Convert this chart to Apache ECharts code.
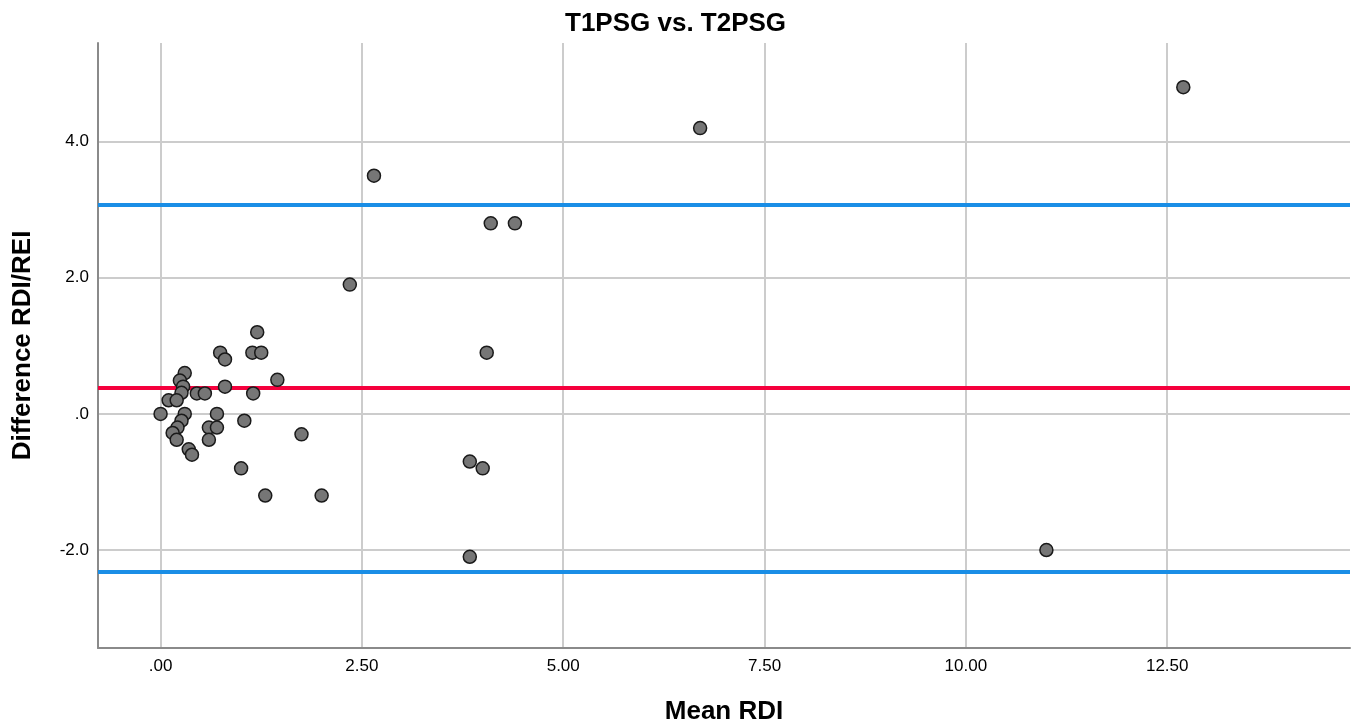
<!DOCTYPE html>
<html>
<head>
<meta charset="utf-8">
<script src="https://cdn.jsdelivr.net/npm/echarts@6/dist/echarts.min.js"></script>
<style>
html,body{margin:0;padding:0;background:#fff;}
#chart{width:1355px;height:728px;}
</style>
</head>
<body>
<div id="chart"></div>
<script>
// Mean RDI (x) and difference RDI/REI (y) for each subject
const meanRDI = [
  0.30, 0.24, 0.28, 0.26, 0.10, 0.20, 0.45, 0.55, 0.80, 0.00,
  0.30, 0.26, 0.21, 0.15, 0.20, 0.35, 0.39, 0.70, 0.60, 0.70,
  0.60, 0.74, 0.80, 1.14, 1.25, 1.20, 1.15, 1.45, 1.04, 1.75,
  1.00, 1.30, 2.00, 2.35, 2.65, 4.10, 4.40, 4.05, 3.84, 4.00,
  3.84, 6.70, 11.00, 12.70
];
const diffRDI = [
  0.60, 0.49, 0.40, 0.31, 0.20, 0.20, 0.30, 0.30, 0.40, 0.00,
  0.00, -0.10, -0.20, -0.28, -0.38, -0.52, -0.60, 0.00, -0.20, -0.20,
  -0.38, 0.90, 0.80, 0.90, 0.90, 1.20, 0.30, 0.50, -0.10, -0.30,
  -0.80, -1.20, -1.20, 1.90, 3.50, 2.80, 2.80, 0.90, -0.70, -0.80,
  -2.10, 4.20, -2.00, 4.80
];
const meanDifference = 0.375;
const upperLimit = 3.07;
const lowerLimit = -2.32;
const xTicks = [0, 2.5, 5, 7.5, 10, 12.5];
const yTicks = [-2, 0, 2, 4];
const xRange = [-0.777, 14.77];
const yRange = [-3.44, 5.45];

const points = meanRDI.map((x, i) => [x, diffRDI[i]]);

function stripZero(s) {
  if (s.startsWith('0.')) return s.slice(1);
  if (s.startsWith('-0.')) return '-' + s.slice(2);
  return s;
}

const chart = echarts.init(document.getElementById('chart'), null, {renderer: 'canvas'});
const FONT = '"Liberation Sans", Arial, sans-serif';
chart.setOption({
  animation: false,
  backgroundColor: '#ffffff',
  title: {
    text: 'T1PSG vs. T2PSG',
    left: 560,
    top: 6,
    textStyle: {fontFamily: FONT, fontSize: 26, fontWeight: 'bold', color: '#000'}
  },
  grid: {left: 98, right: 5, top: 43, bottom: 80, containLabel: false, outerBoundsMode: 'none'},
  xAxis: {
    type: 'value',
    min: xRange[0], max: xRange[1],
    name: 'Mean RDI',
    nameLocation: 'middle',
    nameGap: 51,
    nameTextStyle: {fontFamily: FONT, fontSize: 26, fontWeight: 'bold', color: '#000'},
    axisLine: {show: true, onZero: false, lineStyle: {color: '#8a8a8a', width: 2}},
    axisTick: {show: false, customValues: xTicks},
    axisLabel: {
      customValues: xTicks,
      margin: 10,
      fontFamily: FONT, fontSize: 17, color: '#000',
      formatter: v => stripZero(Number(v).toFixed(2))
    },
    splitLine: {show: true, lineStyle: {color: '#cccccc', width: 2}}
  },
  yAxis: {
    type: 'value',
    min: yRange[0], max: yRange[1],
    name: 'Difference RDI/REI',
    nameLocation: 'middle',
    nameGap: 62,
    nameTextStyle: {fontFamily: FONT, fontSize: 26, fontWeight: 'bold', color: '#000'},
    axisLine: {show: true, onZero: false, lineStyle: {color: '#8a8a8a', width: 2}},
    axisTick: {show: false, customValues: yTicks},
    axisLabel: {
      customValues: yTicks,
      margin: 9,
      fontFamily: FONT, fontSize: 17, color: '#000',
      formatter: v => stripZero(Number(v).toFixed(1))
    },
    splitLine: {show: true, lineStyle: {color: '#cccccc', width: 2}}
  },
  series: [{
    type: 'scatter',
    data: points,
    symbol: 'circle',
    symbolSize: 13,
    itemStyle: {color: '#767676', borderColor: '#1a1a1a', borderWidth: 1.5, opacity: 1},
    z: 5,
    markLine: {
      silent: true,
      symbol: ['none', 'none'],
      label: {show: false},
      z: 3,
      data: [
        {yAxis: upperLimit, lineStyle: {color: '#1a8ee6', width: 4, type: 'solid'}},
        {yAxis: lowerLimit, lineStyle: {color: '#1a8ee6', width: 4, type: 'solid'}},
        {yAxis: meanDifference, lineStyle: {color: '#f5003d', width: 4, type: 'solid'}}
      ]
    }
  }]
});
</script>
</body>
</html>
